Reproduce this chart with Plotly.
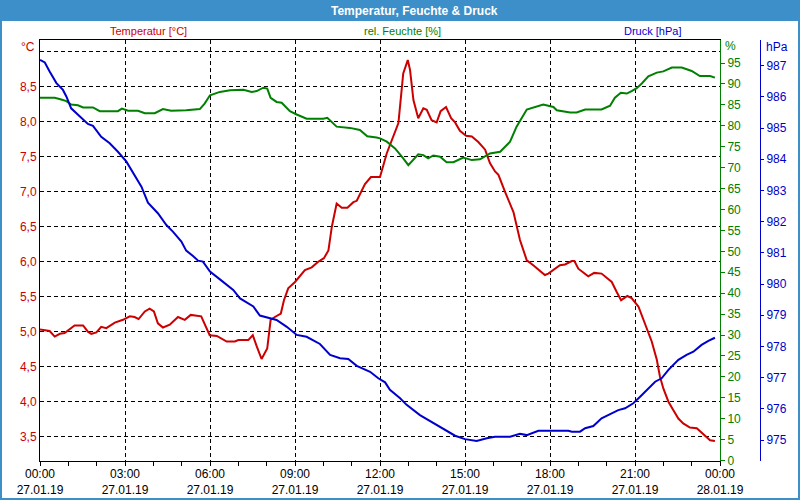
import plotly.graph_objects as go

# ---------------- data (hours since 27.01.19 00:00) ----------------
temp_h = [0.00, 0.34, 0.52, 0.70, 0.87, 1.10, 1.22, 1.52, 1.69, 1.81, 1.99, 2.16, 2.34, 2.64, 2.93,
          3.17, 3.34, 3.48, 3.70, 3.87, 4.02, 4.16, 4.34, 4.58, 4.87, 5.11, 5.32, 5.69, 5.87, 5.99,
          6.24, 6.59, 6.88, 7.00, 7.35, 7.51, 7.65, 7.82, 8.02, 8.14, 8.29, 8.50, 8.61, 8.76, 9.00,
          9.35, 9.59, 9.82, 10.02, 10.18, 10.30, 10.47, 10.65, 10.85, 11.06, 11.18, 11.47, 11.68,
          12.00, 12.24, 12.65, 12.82, 12.98, 13.06, 13.18, 13.35, 13.53, 13.65, 13.82, 14.00, 14.14,
          14.33, 14.51, 14.65, 14.82, 15.04, 15.24, 15.47, 15.71, 15.88, 16.06, 16.18, 16.41, 16.71,
          16.94, 17.18, 17.41, 17.65, 17.82, 17.94, 18.35, 18.53, 18.77, 18.86, 19.00, 19.35, 19.56,
          19.82, 20.18, 20.35, 20.51, 20.73, 20.88, 21.12, 21.35, 21.59, 21.77, 21.88, 22.00, 22.18,
          22.35, 22.53, 22.70, 22.94, 23.18, 23.35, 23.53, 23.65, 23.82]
temp_v = [5.03, 5.01, 4.93, 4.97, 4.98, 5.06, 5.09, 5.09, 5.00, 4.97, 4.99, 5.07, 5.05, 5.13, 5.17,
          5.22, 5.21, 5.18, 5.29, 5.33, 5.29, 5.12, 5.06, 5.10, 5.21, 5.17, 5.24, 5.22, 5.06, 4.95,
          4.94, 4.86, 4.86, 4.88, 4.88, 4.95, 4.79, 4.61, 4.76, 5.17, 5.21, 5.26, 5.45, 5.62, 5.71,
          5.88, 5.92, 6.00, 6.05, 6.16, 6.50, 6.83, 6.77, 6.77, 6.85, 6.87, 7.11, 7.21,
          7.21, 7.55, 7.98, 8.69, 8.88, 8.74, 8.31, 8.05, 8.19, 8.17, 8.02, 7.99, 8.15,
          8.21, 8.05, 7.99, 7.87, 7.80, 7.79, 7.71, 7.60, 7.41, 7.29, 7.24, 7.00, 6.71,
          6.31, 6.02, 5.95, 5.86, 5.81, 5.83, 5.95, 5.96, 6.01, 6.01, 5.90, 5.79, 5.84,
          5.83, 5.71, 5.57, 5.45, 5.51, 5.48, 5.36, 5.10, 4.86, 4.60, 4.36, 4.19, 4.00,
          3.88, 3.76, 3.69, 3.63, 3.62, 3.56, 3.49, 3.45, 3.44]

hum_h = [0.00, 0.52, 0.75, 0.93, 1.10, 1.34, 1.52, 1.87, 2.11, 2.75, 2.89, 3.11, 3.46, 3.70, 4.05,
         4.34, 4.63, 5.16, 5.64, 5.81, 6.00, 6.35, 6.71, 7.18, 7.47, 7.65, 7.88, 8.02, 8.14, 8.35,
         8.53, 8.82, 9.06, 9.41, 10.00, 10.14, 10.47, 10.94, 11.29, 11.55, 11.88, 12.00, 12.24,
         12.53, 12.82, 13.00, 13.35, 13.53, 13.70, 13.88, 14.12, 14.35, 14.59, 14.94, 15.24, 15.53,
         15.88, 16.24, 16.59, 16.82, 17.18, 17.41, 17.76, 18.12, 18.24, 18.71, 18.94, 19.24, 19.82,
         20.12, 20.29, 20.50, 20.71, 20.88, 21.06, 21.24, 21.47, 21.77, 22.00, 22.30, 22.65, 23.00,
         23.29, 23.65, 23.82]
hum_v = [86.7, 86.7, 86.3, 85.9, 85.1, 84.9, 84.4, 84.4, 83.5, 83.5, 84.1, 83.6, 83.6, 83.0, 83.0,
         84.0, 83.6, 83.7, 84.0, 85.3, 87.3, 88.1, 88.5, 88.6, 88.1, 88.3, 89.1, 88.9, 86.7, 85.7,
         85.5, 83.5, 82.7, 81.7, 81.7, 81.9, 79.8, 79.5, 79.0, 77.5, 77.2, 77.0, 76.2,
         74.6, 72.2, 70.6, 73.2, 73.0, 72.2, 72.9, 72.6, 71.3, 71.3, 72.4, 71.8, 72.0,
         73.4, 73.8, 76.2, 79.8, 83.9, 84.4, 85.1, 84.5, 83.7, 83.2, 83.2, 83.9, 83.9,
         84.8, 86.7, 87.9, 87.7, 88.3, 89.0, 90.1, 91.8, 92.7, 93.0, 93.9, 93.9, 93.1,
         91.9, 91.9, 91.5]

pres_h = [0.00, 0.17, 0.34, 0.58, 0.81, 0.93, 1.10, 1.40, 1.69, 1.87, 2.16, 2.46, 2.75, 3.05, 3.34,
          3.58, 3.81, 4.16, 4.46, 4.69, 4.99, 5.16, 5.40, 5.58, 5.75, 6.00, 6.35, 6.82, 7.06, 7.53,
          7.76, 8.06, 8.35, 8.71, 9.06, 9.41, 9.88, 10.24, 10.59, 10.88, 11.18, 11.65, 11.94, 12.18,
          12.35, 12.71, 12.94, 13.41, 13.88, 14.29, 14.65, 15.00, 15.41, 15.77, 16.06, 16.59, 16.94,
          17.18, 17.59, 18.35, 18.65, 18.77, 19.06, 19.24, 19.53, 19.82, 20.12, 20.41, 20.65, 20.94,
          21.18, 21.41, 21.71, 21.94, 22.18, 22.53, 22.82, 23.06, 23.35, 23.59, 23.82]
pres_v = [987.18, 987.10, 986.81, 986.44, 986.22, 986.01, 985.63, 985.37, 985.13, 985.07, 984.72,
          984.51, 984.24, 983.92, 983.50, 983.12, 982.61, 982.27, 981.89, 981.68, 981.36, 981.07,
          980.90, 980.75, 980.72, 980.40, 980.15, 979.81, 979.54, 979.28, 978.99, 978.92, 978.85,
          978.63, 978.37, 978.31, 978.08, 977.73, 977.62, 977.60, 977.38, 977.19, 976.98, 976.85,
          976.61, 976.34, 976.13, 975.80, 975.54, 975.32, 975.14, 975.03, 974.97, 975.06, 975.11,
          975.11, 975.20, 975.16, 975.30, 975.30, 975.30, 975.27, 975.27, 975.38, 975.45, 975.70,
          975.84, 975.96, 976.02, 976.18, 976.39, 976.61, 976.87, 976.98, 977.25, 977.57, 977.73,
          977.83, 978.05, 978.18, 978.28]

x_tickvals = [0, 3, 6, 9, 12, 15, 18, 21, 24]
x_ticktext = ["00:00<br>27.01.19", "03:00<br>27.01.19", "06:00<br>27.01.19", "09:00<br>27.01.19",
              "12:00<br>27.01.19", "15:00<br>27.01.19", "18:00<br>27.01.19", "21:00<br>27.01.19",
              "00:00<br>28.01.19"]
t_tickvals = [3.5, 4.0, 4.5, 5.0, 5.5, 6.0, 6.5, 7.0, 7.5, 8.0, 8.5, 9.0]
t_ticktext = ["3,5", "4,0", "4,5", "5,0", "5,5", "6,0", "6,5", "7,0", "7,5", "8,0", "8,5", ""]
h_tickvals = list(range(0, 100, 5))
p_tickvals = list(range(975, 988))

RED = "#cc0000"
GREEN = "#008000"
BLUE = "#0000cc"
FRAME = "#3c8fc8"
FONT = "Liberation Sans"

fig = go.Figure()
fig.add_trace(go.Scatter(x=pres_h, y=pres_v, yaxis="y3", mode="lines",
                         line=dict(color=BLUE, width=2), name="Druck [hPa]"))
fig.add_trace(go.Scatter(x=hum_h, y=hum_v, yaxis="y2", mode="lines",
                         line=dict(color=GREEN, width=2), name="rel. Feuchte [%]"))
fig.add_trace(go.Scatter(x=temp_h, y=temp_v, yaxis="y", mode="lines",
                         line=dict(color=RED, width=2), name="Temperatur [°C]"))

L, R, T, B = 40, 40, 40, 39
PW, PH = 800 - L - R, 500 - T - B


def px(xp):
    return (xp - L) / PW


def py(yp):
    return (500 - B - yp) / PH


fig.update_layout(
    width=800, height=500,
    margin=dict(l=L, r=R, t=T, b=B, autoexpand=False),
    paper_bgcolor="white", plot_bgcolor="white",
    showlegend=False,
    font=dict(family=FONT, size=11, color="black"),
    xaxis=dict(domain=[0, 680 / PW], range=[0, 24], tickmode="array",
               tickvals=x_tickvals, ticktext=x_ticktext, automargin=False,
               showline=True, linecolor="black", linewidth=1, mirror=True,
               ticks="outside", ticklen=4, tickcolor="black", ticklabelstandoff=-2,
               showgrid=True, gridcolor="black", gridwidth=1, griddash="4px,3px",
               zeroline=False,
               minor=dict(tickmode="linear", tick0=0, dtick=1, ticks="outside",
                          ticklen=4, tickcolor="black", showgrid=False),
               tickfont=dict(family=FONT, size=12, color="black")),
    yaxis=dict(range=[3.153, 9.167], tickmode="array", tickvals=t_tickvals, ticktext=t_ticktext,
               automargin=False,
               showline=True, linecolor="black", linewidth=1, ticks="",
               showgrid=True, gridcolor="black", gridwidth=1, griddash="4px,3px",
               zeroline=False, tickfont=dict(family=FONT, size=12, color=RED)),
    yaxis2=dict(range=[-0.1, 100.5], overlaying="y", side="right", anchor="x",
                tickmode="array", tickvals=h_tickvals, automargin=False,
                showline=True, linecolor=GREEN, linewidth=1,
                ticks="outside", ticklen=4, tickcolor=GREEN,
                showgrid=False, zeroline=False,
                tickfont=dict(family=FONT, size=12, color=GREEN)),
    yaxis3=dict(range=[974.33, 987.82], overlaying="y", side="right", anchor="free",
                position=1.0, tickmode="array", tickvals=p_tickvals, automargin=False,
                showline=True, linecolor=BLUE, linewidth=1,
                ticks="outside", ticklen=3, tickcolor=BLUE,
                showgrid=False, zeroline=False,
                tickfont=dict(family=FONT, size=12, color=BLUE)),
)

shapes = [
    dict(type="rect", xref="paper", yref="paper", x0=px(0), x1=px(800), y0=py(0), y1=py(21),
         fillcolor=FRAME, line=dict(width=0), layer="above"),
    dict(type="rect", xref="paper", yref="paper", x0=px(1), x1=px(799), y0=py(1), y1=py(499),
         fillcolor="rgba(0,0,0,0)", line=dict(color=FRAME, width=2), layer="above"),
]
fig.update_layout(shapes=shapes)

ann = [
    dict(text="<b>Temperatur, Feuchte &amp; Druck</b>", x=px(414), y=py(10.5), font=dict(color="white", size=12)),
    dict(text="Temperatur [°C]", x=px(148), y=py(31), font=dict(color=RED, size=11)),
    dict(text="rel. Feuchte [%]", x=px(402), y=py(31), font=dict(color=GREEN, size=11)),
    dict(text="Druck [hPa]", x=px(652), y=py(31), font=dict(color=BLUE, size=11)),
    dict(text="°C", x=px(37), y=py(47), xanchor="right", font=dict(color=RED, size=12)),
    dict(text="%", x=px(723), y=py(46), xanchor="left", font=dict(color=GREEN, size=12)),
    dict(text="hPa", x=px(764), y=py(47), xanchor="left", font=dict(color=BLUE, size=12)),
]
for a in ann:
    a.setdefault("xanchor", "center")
    a.update(xref="paper", yref="paper", yanchor="middle", showarrow=False)
fig.update_layout(annotations=ann)

fig.write_html("out.html")
